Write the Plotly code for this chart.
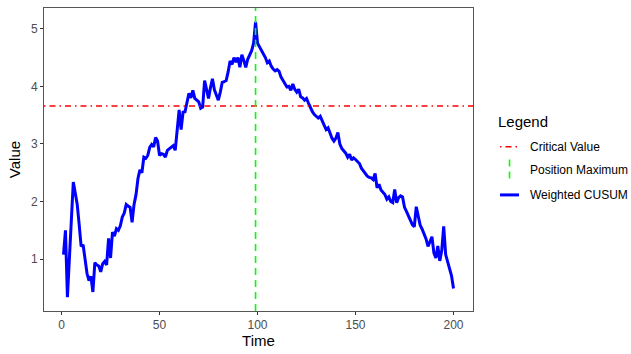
import plotly.graph_objects as go

# Weighted CUSUM statistic over time
time = list(range(1, 201))
cusum = [
    1.08, 1.50, 0.34, 0.95, 1.65, 2.34, 2.15, 1.95, 1.60, 1.22,
    1.25, 0.95, 0.75, 0.63, 0.70, 0.43, 0.94, 0.90, 0.88, 0.78,
    0.92, 0.96, 0.90, 1.36, 1.02, 1.47, 1.40, 1.53, 1.50, 1.58,
    1.73, 1.80, 1.95, 1.92, 1.90, 1.64, 1.95, 2.12, 2.40, 2.55,
    2.50, 2.77, 2.75, 2.80, 2.94, 2.99, 2.95, 3.11, 3.05, 2.80,
    2.83, 2.82, 2.77, 2.89, 2.92, 2.94, 2.97, 2.89, 3.30, 3.59,
    3.25, 3.55, 3.56, 3.70, 3.88, 3.80, 3.93, 3.79, 3.76, 3.73,
    3.62, 3.64, 4.10, 3.95, 3.79, 3.98, 4.13, 3.94, 3.86, 3.76,
    3.90, 4.07, 4.08, 4.10, 4.25, 4.44, 4.38, 4.50, 4.42, 4.50,
    4.33, 4.55, 4.45, 4.33, 4.47, 4.55, 4.62, 4.75, 5.12, 4.75,
    4.68, 4.62, 4.56, 4.50, 4.41, 4.44, 4.35, 4.30, 4.27, 4.29,
    4.26, 4.16, 4.10, 4.05, 3.99, 4.00, 3.93, 4.04, 3.95, 3.90,
    3.95, 3.82, 3.80, 3.76, 3.79, 3.71, 3.62, 3.56, 3.51, 3.48,
    3.45, 3.48, 3.40, 3.33, 3.25, 3.28, 3.17, 3.10, 3.05, 3.10,
    3.20, 3.00, 2.92, 2.88, 2.84, 2.77, 2.82, 2.72, 2.76, 2.73,
    2.70, 2.66, 2.58, 2.53, 2.50, 2.44, 2.42, 2.41, 2.38, 2.49,
    2.24, 2.30, 2.20, 2.15, 2.12, 2.04, 2.08, 2.00, 1.98, 2.21,
    1.98, 2.07, 2.10, 2.08, 1.90, 1.83, 1.76, 1.67, 1.60, 1.56,
    1.91, 1.75, 1.59, 1.52, 1.44, 1.35, 1.22, 1.30, 1.39, 1.11,
    1.02, 1.23, 0.97, 1.15, 1.57, 1.08, 0.95, 0.85, 0.71, 0.49,
]
critical_value = 3.66
position_max = time[cusum.index(max(cusum))]

legend_labels = ["Critical Value", "Position Maximum", "Weighted CUSUM"]

RED = "#FF0000"
GREEN = "#00FF00"
BLUE = "#0000FF"
FONT = "Liberation Sans, Arial, sans-serif"

W, H = 631, 354
M_L, M_R, M_T, M_B = 44, 158, 7, 39
PW, PH = W - M_L - M_R, H - M_T - M_B

fig = go.Figure()
fig.add_trace(go.Scatter(
    x=time, y=cusum, mode="lines",
    line=dict(color=BLUE, width=3),
    showlegend=False, hoverinfo="x+y",
))

# reference lines
fig.add_hline(y=critical_value, line=dict(color=RED, width=1.5, dash="1.5px,4px,6px,4px"), layer="above")
fig.add_vline(x=position_max, line=dict(color=GREEN, width=1.6, dash="7px,5px"), layer="above")

# hand-built legend on the right (pixel positions converted to paper units)
def px(x):
    return (x - M_L) / PW
def py(y):
    return (H - M_B - y) / PH

fig.add_annotation(x=px(496), y=py(122), xref="paper", yref="paper", text="Legend",
                   showarrow=False, xanchor="left", yanchor="middle",
                   font=dict(family=FONT, size=15, color="black"))
rows_y = [148, 172, 197]
for label, yy in zip(legend_labels, rows_y):
    fig.add_annotation(x=px(528), y=py(yy), xref="paper", yref="paper", text=label,
                       showarrow=False, xanchor="left", yanchor="middle",
                       font=dict(family=FONT, size=12, color="black"))
fig.add_shape(type="line", xref="paper", yref="paper",
              x0=px(500), x1=px(518), y0=py(148), y1=py(148),
              line=dict(color=RED, width=1.5, dash="1.5px,4px,6px,4px"))
fig.add_shape(type="line", xref="paper", yref="paper",
              x0=px(509.5), x1=px(509.5), y0=py(161), y1=py(184),
              line=dict(color=GREEN, width=1.6, dash="7px,5px"))
fig.add_shape(type="line", xref="paper", yref="paper",
              x0=px(500), x1=px(519), y0=py(197), y1=py(197),
              line=dict(color=BLUE, width=3))

axis_common = dict(
    showgrid=False, zeroline=False, showline=True, mirror=True,
    linecolor="#555555", linewidth=1,
    ticks="outside", ticklen=3, tickcolor="#333333", tickwidth=1,
    tickfont=dict(family=FONT, size=12, color="#4D4D4D"),
)
fig.update_xaxes(range=[-8.95, 209.95], tickvals=[0, 50, 100, 150, 200],
                 title=dict(text="Time", font=dict(family=FONT, size=15, color="black"), standoff=4),
                 **axis_common)
fig.update_yaxes(range=[0.10, 5.36], tickvals=[1, 2, 3, 4, 5],
                 title=dict(text="Value", font=dict(family=FONT, size=15, color="black"), standoff=6),
                 **axis_common)

fig.update_layout(
    width=W, height=H,
    margin=dict(l=M_L, r=M_R, t=M_T, b=M_B),
    paper_bgcolor="white", plot_bgcolor="white",
    showlegend=False,
)

fig.write_html("out.html")
